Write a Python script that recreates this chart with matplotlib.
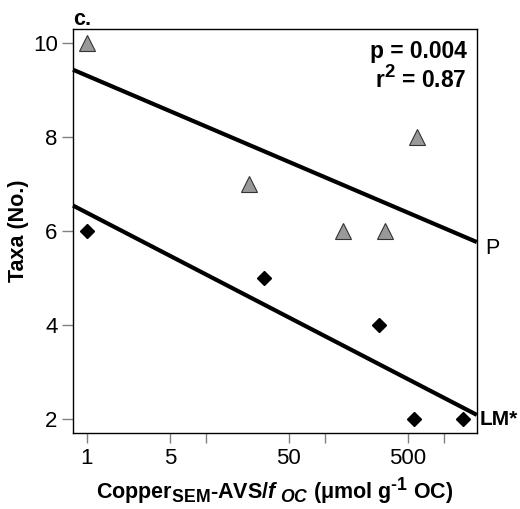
import numpy as np
import matplotlib.pyplot as plt
import matplotlib.transforms as mtransforms

try:
    # larger sub/superscripts, like the reference
    import matplotlib._mathtext as _mt
    _mt.SHRINK_FACTOR = 0.82
except Exception:
    pass

# --- data (x is log scale) ---
p_x = [1, 23, 143, 321, 600]
p_y = [10, 7, 6, 6, 8]
lm_x = [1, 31, 288, 563, 1445]
lm_y = [6, 5, 4, 2, 2]

x_ticks = [1, 5, 10, 50, 100, 500, 1000]
x_tick_labels = ['1', '5', '', '50', '', '500', '']
y_ticks = [2, 4, 6, 8, 10]

plt.rcParams['font.family'] = ['Liberation Sans', 'DejaVu Sans']
plt.rcParams['mathtext.fontset'] = 'custom'
plt.rcParams['mathtext.rm'] = 'Liberation Sans:bold'
plt.rcParams['mathtext.it'] = 'Liberation Sans:bold:italic'
plt.rcParams['mathtext.bf'] = 'Liberation Sans:bold'

fig = plt.figure(figsize=(5.2, 5.09), dpi=100)
ax = fig.add_axes([0.1404, 0.1493, 0.7766, 0.7937])

xlim = (0.767, 1905)
ax.set_xscale('log')
ax.set_xlim(*xlim)
ax.set_ylim(1.70, 10.29)

# regression lines fitted on log10(x)
xx = np.array(xlim)
for xs, ys in [(p_x, p_y), (lm_x, lm_y)]:
    b, a = np.polyfit(np.log10(xs), ys, 1)
    ax.plot(xx, a + b * np.log10(xx), color='black', lw=3, solid_capstyle='butt',
            zorder=2, clip_on=False)

ax.plot(p_x, p_y, linestyle='none', marker='^', ms=12, mfc='#999999',
        mec='#333333', mew=0.8, zorder=3, clip_on=False)
ax.plot(lm_x, lm_y, linestyle='none', marker='D', ms=7, mfc='black',
        mec='black', mew=1, zorder=3, clip_on=False)

ax.set_xticks(x_ticks)
ax.set_xticklabels(x_tick_labels)
ax.xaxis.set_minor_locator(plt.NullLocator())
ax.set_yticks(y_ticks)
ax.tick_params(axis='both', direction='out', width=1, color='#808080',
               labelsize=16)
ax.tick_params(axis='x', length=7, pad=4)
ax.tick_params(axis='y', length=8, pad=3)

for s in ax.spines.values():
    s.set_linewidth(1)

ax.set_ylabel('Taxa (No.)', fontsize=15.5, fontweight='bold', labelpad=3)
ax.set_xlabel(r'Copper$_{\rm SEM}$-AVS/$f_{\ OC}$ (μmol g$^{\text{-}1}$ OC)',
              fontsize=15.5, fontweight='bold', labelpad=5)

trans = mtransforms.blended_transform_factory(ax.transAxes, ax.transData)
ax.text(1.02, 5.62, 'P', transform=trans, fontsize=15.5, va='center', ha='left')
ax.text(1.008, 1.99, 'LM*', transform=trans, fontsize=15, fontweight='bold',
        va='center', ha='left')

ax.text(0.975, 0.9275, 'p = 0.004', transform=ax.transAxes,
        fontsize=16.4, fontweight='bold', ha='right', va='baseline')
ax.text(0.975, 0.8532, 'r$^2$ = 0.87', transform=ax.transAxes,
        fontsize=16.4, fontweight='bold', ha='right', va='baseline')
ax.text(0.0, 1.0099, 'c.', transform=ax.transAxes, fontsize=15.5,
        fontweight='bold', ha='left', va='baseline')

fig.savefig('out.png', dpi=100)
